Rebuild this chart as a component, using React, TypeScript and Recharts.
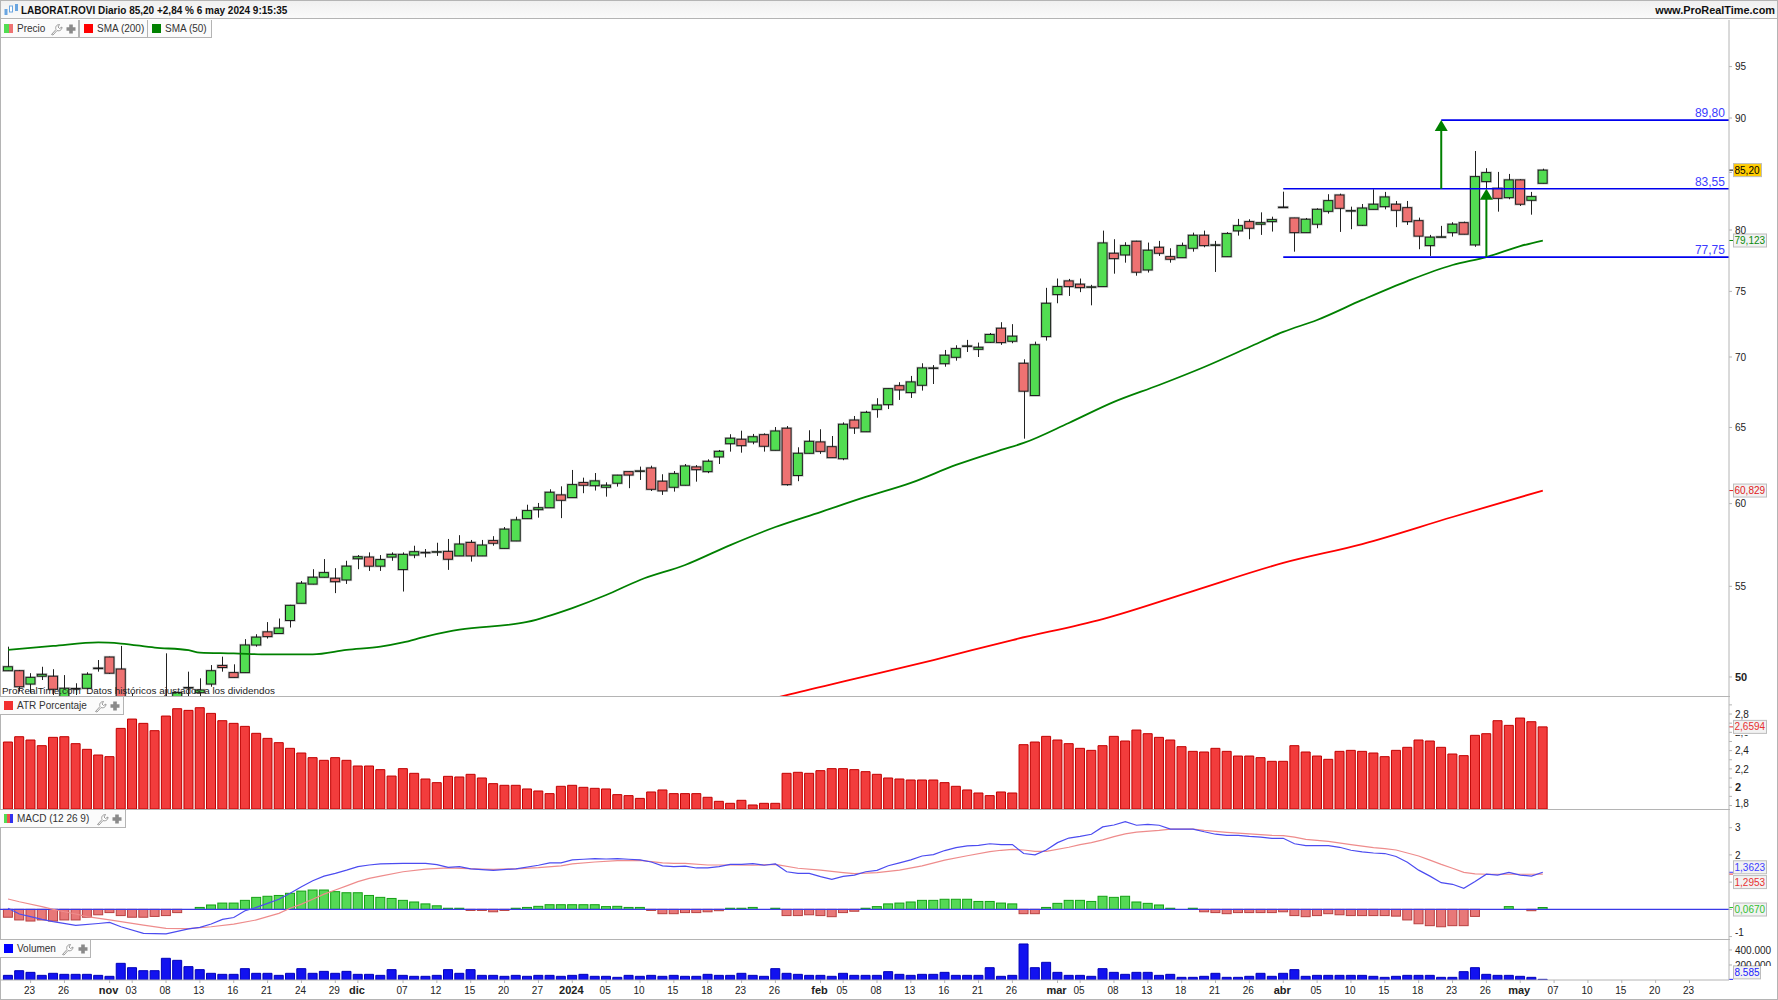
import React from "react";
import { ComposedChart, Bar, Line, XAxis, YAxis, ReferenceLine } from "recharts";

const FONT = "'Liberation Sans', Arial, sans-serif";

// trading calendar
const calendar: [number, number[]][] = [
  [10, [19,20,23,24,25,26,27,30,31]],
  [11, [1,2,3,6,7,8,9,10,13,14,15,16,17,20,21,22,23,24,27,28,29,30]],
  [12, [1,4,5,6,7,8,11,12,13,14,15,18,19,20,21,22,27,28,29]],
  [1, [2,3,4,5,8,9,10,11,12,15,16,17,18,19,22,23,24,25,26,29,30,31]],
  [2, [1,2,5,6,7,8,9,12,13,14,15,16,19,20,21,22,23,26,27,28,29]],
  [3, [1,4,5,6,7,8,11,12,13,14,15,18,19,20,21,22,25,26,27,28]],
  [4, [2,3,4,5,8,9,10,11,12,15,16,17,18,19,22,23,24,25,26,29,30]],
  [5, [2,3,6,7,8,9,10,13,14,15,16,17,20,21,22,23,24,27,28]],
];
const days: string[] = calendar.flatMap(([m, ds]) => ds.map((d) => `${m}-${d}`));

const timeTicks: [string, string][] = [
  ["10-23","23"],["10-26","26"],["11-1","nov"],["11-3","03"],["11-8","08"],["11-13","13"],["11-16","16"],["11-21","21"],["11-24","24"],["11-29","29"],
  ["12-1","dic"],["12-7","07"],["12-12","12"],["12-15","15"],["12-20","20"],["12-27","27"],["1-2","2024"],["1-5","05"],["1-10","10"],["1-15","15"],["1-18","18"],["1-23","23"],["1-26","26"],
  ["2-1","feb"],["2-5","05"],["2-8","08"],["2-13","13"],["2-16","16"],["2-21","21"],["2-26","26"],["3-1","mar"],["3-5","05"],["3-8","08"],["3-13","13"],["3-18","18"],["3-21","21"],["3-26","26"],
  ["4-2","abr"],["4-5","05"],["4-10","10"],["4-15","15"],["4-18","18"],["4-23","23"],["4-26","26"],["5-2","may"],["5-7","07"],["5-10","10"],["5-15","15"],["5-20","20"],["5-23","23"],
];
const boldTimeLabels = ["nov","dic","2024","feb","mar","abr","may"];

// open, high, low, close
const priceRows: number[][] = [
  [50.33,51.62,50.32,50.54],[50.33,50.37,49.23,49.49],[49.63,50.2,49.16,49.98],[50.04,50.54,49.84,50.14],[50.04,50.41,49.06,49.36],
  [48.89,50.1,48.85,49.41],[49.38,49.67,49.06,49.4],[49.41,50.25,49.36,50.14],[50.45,50.9,50.28,50.47],[51.06,51.08,50.16,50.2],
  [50.42,51.66,48.6,48.8],[48.75,49.16,48.35,48.55],[48.6,48.9,48.2,48.4],[48.5,48.95,48.1,48.7],[48.6,51.26,48.3,48.85],
  [48.9,49.23,48.8,49.19],[49.43,50.28,48.97,49.45],[49.18,49.93,48.97,49.32],[49.63,50.63,49.49,50.33],[50.61,51.08,50.28,50.5],
  [50.23,50.67,49.97,49.98],[50.23,52.03,50.22,51.71],[51.71,52.3,51.62,52.14],[52.43,52.97,52.06,52.17],[52.34,53.17,52.33,52.64],
  [53.06,53.94,52.67,53.91],[54.03,55.31,54.03,55.18],[55.13,56.0,55.12,55.53],[55.53,56.6,55.52,55.8],[55.47,56.06,54.61,55.27],
  [55.37,56.5,55.14,56.18],[56.62,56.84,56.0,56.74],[56.72,57.0,55.9,56.18],[56.18,56.84,55.9,56.57],[56.72,57.0,56.5,56.88],
  [55.98,57.0,54.7,56.88],[56.84,57.4,56.65,57.04],[57.0,57.2,56.7,57.0],[57.03,57.58,56.79,57.04],[57.06,57.81,55.96,56.59],
  [56.79,58.04,56.78,57.5],[57.6,57.75,56.45,56.79],[56.79,57.75,56.78,57.44],[57.71,57.98,57.4,57.55],[57.24,58.54,57.23,58.41],
  [57.69,59.18,57.68,58.98],[59.06,59.93,59.05,59.56],[59.62,60.04,59.12,59.74],[59.74,60.91,59.73,60.72],[60.55,61.1,59.09,60.21],
  [60.38,62.16,60.37,61.21],[61.34,61.66,60.66,61.17],[61.14,61.96,60.83,61.45],[61.04,61.36,60.44,61.17],[61.3,61.84,61.08,61.82],
  [62.05,62.06,60.98,61.83],[62.09,62.38,61.51,62.1],[62.29,62.44,60.8,60.91],[61.43,61.88,60.55,60.81],[61.04,62.09,60.76,61.92],
  [61.17,62.55,61.16,62.42],[62.36,62.48,61.4,62.18],[62.05,62.86,61.95,62.73],[63.02,63.48,62.55,63.39],[63.9,64.54,63.37,64.27],
  [64.2,64.78,63.3,63.77],[64.02,64.56,63.86,64.37],[64.51,64.6,63.37,63.73],[63.46,65.03,63.45,64.76],[64.95,65.1,61.14,61.21],
  [61.8,63.66,61.43,63.26],[63.26,64.81,63.25,64.06],[64.02,64.88,63.22,63.39],[63.7,64.42,62.96,62.97],[62.9,65.35,62.8,65.22],
  [65.51,65.79,64.56,64.97],[64.71,66.15,64.7,66.04],[66.25,67.03,65.67,66.55],[66.58,67.72,66.27,67.71],[67.92,68.17,66.91,67.62],
  [67.43,68.62,67.05,68.19],[67.95,69.54,67.57,69.2],[69.19,69.41,68.04,69.2],[69.51,70.52,69.29,70.13],[69.98,70.87,69.73,70.62],
  [70.8,71.27,70.37,70.82],[70.57,71.07,70.0,70.72],[71.09,71.79,71.05,71.68],[72.15,72.61,70.9,71.07],[71.17,72.46,71.02,71.55],
  [69.54,69.83,64.24,67.53],[67.22,71.14,67.2,70.91],[71.52,75.28,71.22,74.07],[74.75,76.02,74.07,75.38],[75.83,75.99,74.64,75.38],
  [75.57,76.02,74.94,75.3],[75.35,75.52,73.91,75.36],[75.38,79.95,75.37,78.92],[78.07,79.23,76.41,77.63],[77.93,78.98,77.3,78.7],
  [79.06,79.1,76.25,76.53],[76.71,78.95,76.5,78.32],[78.56,79.09,77.85,78.07],[77.79,78.48,77.3,77.58],[77.71,78.95,77.7,78.7],
  [78.48,79.78,78.2,79.56],[79.56,79.95,78.56,78.7],[78.74,79.09,76.55,78.76],[77.79,79.82,77.78,79.7],[79.93,80.94,79.53,80.37],
  [80.71,80.91,79.23,80.15],[80.49,81.5,79.59,80.62],[80.71,81.13,79.87,80.88],[81.93,83.29,81.87,81.95],[81.02,81.03,78.2,79.78],
  [79.78,81.02,79.77,80.91],[80.49,81.85,80.15,81.76],[81.59,83.07,81.39,82.51],[83.0,83.12,79.84,81.85],[81.63,81.99,80.07,81.65],
  [80.4,82.22,80.34,81.87],[81.76,83.5,81.75,82.2],[81.99,83.27,81.76,82.83],[82.2,82.48,80.24,81.68],[81.9,82.48,80.43,80.71],
  [80.79,81.05,78.4,79.49],[78.7,79.59,77.85,79.4],[79.41,80.35,79.4,79.43],[79.78,80.66,79.45,80.49],[80.62,80.71,79.64,79.65],
  [78.76,86.93,78.6,84.62],[84.18,85.37,83.59,84.98],[83.59,85.04,81.56,82.71],[82.77,84.86,82.63,84.33],[84.33,84.39,82.05,82.2],
  [82.54,83.27,81.3,82.86],[84.03,85.33,84.02,85.2],
];

// [bar number, value]
const sma50Points: number[][] = [
  [0,51.45],[4,51.66],[8,51.85],[10,51.79],[13,51.57],[16,51.43],[17,51.3],[20,51.26],[23,51.2],[27,51.2],[30,51.44],[33,51.62],[35,51.85],[37,52.17],[39,52.44],
  [40,52.55],[46,52.98],[50,53.76],[53,54.5],[56,55.37],[60,56.25],[64,57.44],[68,58.54],[72,59.47],[76,60.42],[80,61.32],[84,62.49],[88,63.48],[90,63.95],[94,65.31],
  [98,66.77],[102,67.97],[106,69.27],[110,70.74],[113,71.87],[116,72.78],[120,74.33],[124,75.82],[128,77.11],[131,77.76],[134,78.66],[136,79.123],
];
const sma200Points: number[][] = [
  [68,48.91],[69,49.06],[75,49.9],[82,50.9],[89,51.98],[97,53.14],[105,54.73],[113,56.37],[120,57.5],[128,59.16],[136,60.829],
];

const atrValues: number[] = [
  2.494,2.552,2.516,2.454,2.545,2.552,2.476,2.414,2.352,2.334,2.643,2.745,2.698,2.618,2.778,2.858,2.84,2.869,2.807,2.727,
  2.698,2.665,2.589,2.534,2.487,2.425,2.374,2.323,2.294,2.323,2.294,2.232,2.232,2.192,2.122,2.203,2.152,2.09,2.05,2.119,
  2.112,2.141,2.101,2.039,2.021,2.021,1.981,1.959,1.93,2.01,2.021,1.999,1.988,1.981,1.919,1.908,1.878,1.948,1.97,1.93,
  1.93,1.93,1.89,1.846,1.824,1.857,1.806,1.824,1.824,2.152,2.163,2.152,2.181,2.203,2.203,2.192,2.17,2.141,2.101,2.09,
  2.079,2.079,2.079,2.05,2.01,1.97,1.937,1.908,1.948,1.937,2.465,2.494,2.556,2.516,2.476,2.425,2.403,2.454,2.556,2.505,
  2.625,2.585,2.545,2.516,2.443,2.392,2.385,2.425,2.392,2.341,2.341,2.323,2.283,2.283,2.454,2.385,2.341,2.305,2.392,2.403,
  2.392,2.374,2.334,2.403,2.436,2.516,2.505,2.436,2.363,2.345,2.567,2.585,2.727,2.676,2.756,2.716,2.6594,
];

const macdHist: number[] = [
  -.29,-.39,-.43,-.39,-.43,-.39,-.39,-.29,-.2,-.12,-.23,-.29,-.29,-.26,-.23,-.12,0,.07,.16,.23,
  .23,.33,.44,.48,.51,.59,.67,.71,.71,.65,.61,.61,.51,.44,.4,.33,.27,.2,.13,.04,
  .04,-.04,-.04,-.09,-.04,.04,.07,.11,.17,.17,.17,.17,.17,.1,.11,.07,.07,-.04,-.16,-.16,
  -.12,-.12,-.09,-.05,.04,.04,.07,0,.04,-.23,-.23,-.2,-.23,-.27,-.12,-.07,.04,.1,.2,.23,
  .27,.33,.33,.37,.37,.37,.29,.29,.23,.2,-.16,-.16,.07,.22,.33,.33,.29,.48,.44,.48,
  .27,.22,.16,.04,0,.04,-.09,-.12,-.16,-.12,-.12,-.12,-.12,-.09,-.23,-.27,-.23,-.16,-.2,-.23,
  -.23,-.23,-.23,-.25,-.39,-.53,-.6,-.64,-.6,-.6,-.26,0,0,.1,0,-.05,.067,
];

const macdPoints: number[][] = [
  [0,.04],[1,-.17],[2,-.27],[3,-.37],[4,-.45],[6,-.59],[8,-.52],[9,-.48],[10,-.64],[12,-.88],[14,-.9],[16,-.72],[17,-.66],[18,-.54],[19,-.37],[20,-.3],[21,-.05],[22,.07],[23,.22],[24,.37],
  [25,.59],[26,.83],[27,1.05],[28,1.22],[29,1.32],[30,1.44],[31,1.57],[32,1.63],[33,1.67],[35,1.69],[37,1.69],[38,1.64],[39,1.54],[40,1.57],[41,1.49],[43,1.43],[45,1.49],[47,1.62],[48,1.71],[49,1.71],
  [50,1.82],[51,1.84],[52,1.86],[53,1.85],[54,1.86],[55,1.84],[56,1.82],[57,1.74],[58,1.6],[59,1.57],[60,1.59],[61,1.52],[62,1.52],[63,1.57],[64,1.65],[65,1.65],[66,1.68],[67,1.62],[68,1.67],[69,1.38],
  [70,1.32],[71,1.32],[72,1.2],[73,1.1],[74,1.21],[75,1.26],[76,1.38],[77,1.43],[78,1.6],[79,1.71],[80,1.82],[81,1.96],[82,2.01],[83,2.16],[84,2.27],[85,2.33],[86,2.35],[87,2.41],[88,2.38],[89,2.38],
  [90,2.05],[91,2.0],[92,2.18],[93,2.45],[94,2.62],[95,2.68],[96,2.76],[97,3.03],[98,3.1],[99,3.22],[100,3.09],[101,3.12],[102,3.09],[103,2.95],[104,2.95],[105,2.95],[106,2.85],[107,2.76],[108,2.72],[109,2.72],
  [110,2.68],[111,2.65],[112,2.61],[113,2.61],[114,2.41],[115,2.34],[116,2.34],[117,2.34],[118,2.28],[119,2.17],[120,2.11],[121,2.07],[122,2.05],[123,1.94],[124,1.73],[125,1.44],[126,1.22],[127,.98],[128,.92],[129,.77],
  [130,1.02],[131,1.29],[132,1.26],[133,1.36],[134,1.26],[135,1.22],[136,1.3623],
];
const signalPoints: number[][] = [
  [0,.38],[1,.28],[3,.1],[4,0],[5,-.09],[6,-.17],[7,-.27],[9,-.39],[10,-.45],[12,-.58],[14,-.7],[16,-.71],[18,-.64],[20,-.54],[22,-.39],[23,-.27],[24,-.15],[25,.04],[26,.19],[27,.37],[28,.56],[29,.71],[30,.86],[31,1.02],[32,1.14],[33,1.22],[35,1.38],[37,1.48],[39,1.52],
  [42,1.48],[43,1.47],[45,1.49],[47,1.53],[49,1.6],[50,1.67],[52,1.74],[54,1.79],[56,1.8],[58,1.71],[59,1.69],[60,1.69],[62,1.63],[64,1.63],[66,1.62],[68,1.65],[70,1.51],[72,1.44],[74,1.35],[75,1.31],[77,1.35],[79,1.44],[81,1.6],[83,1.81],
  [85,1.97],[87,2.12],[88,2.17],[89,2.2],[90,2.18],[91,2.13],[92,2.13],[94,2.28],[95,2.38],[96,2.45],[97,2.55],[98,2.67],[99,2.77],[100,2.84],[102,2.9],[103,2.95],[105,2.95],[106,2.9],[108,2.83],[110,2.77],[112,2.72],[113,2.71],[114,2.65],[115,2.57],[117,2.5],[119,2.38],[121,2.27],[122,2.23],[123,2.18],[124,2.07],[125,1.96],[126,1.81],[127,1.65],[128,1.51],[129,1.36],[130,1.3],[131,1.29],[133,1.29],[135,1.29],[136,1.2953],
];

const volumeValues: number[] = [
  62000,124000,102000,62000,89000,75500,75500,75500,62000,49000,222000,164000,124000,124000,289000,262000,178000,138000,89000,75500,
  75500,151000,89000,89000,62000,89000,151000,89000,115000,89000,115000,75500,75500,62000,138000,62000,49000,49000,62000,138000,
  89000,138000,62000,62000,49000,62000,49000,62000,62000,49000,62000,75500,49000,49000,35500,62000,49000,62000,49000,62000,
  49000,49000,75500,62000,62000,89000,62000,49000,151000,89000,75500,62000,62000,49000,89000,62000,62000,62000,111000,75500,
  62000,75500,75500,102000,62000,62000,62000,164000,49000,62000,480000,164000,235500,102000,62000,62000,49000,151000,102000,75500,
  102000,102000,62000,75500,35500,35500,49000,89000,35500,35500,49000,89000,49000,89000,138000,49000,62000,62000,62000,62000,
  62000,49000,35500,49000,62000,62000,62000,35500,35500,111000,164000,75500,62000,62000,49000,35500,8585,
];

const lookup = (pts: number[][]) => new Map(pts.map(([i, v]) => [i, v]));
const sma50Map = lookup(sma50Points), sma200Map = lookup(sma200Points), macdMap = lookup(macdPoints), signalMap = lookup(signalPoints);

const rows = days.map((day, i) => ({
  day,
  ohlc: priceRows[i] ?? null,
  sma50: sma50Map.get(i) ?? null,
  sma200: sma200Map.get(i) ?? null,
  atr: atrValues[i] ?? null,
  hist: macdHist[i] ?? null,
  macd: macdMap.get(i) ?? null,
  signal: signalMap.get(i) ?? null,
  volume: volumeValues[i] ?? null,
}));

const priceTicks = [50,55,60,65,70,75,80,85,90,95];
const priceLabelled = [50,55,60,65,70,75,80,90,95];
const atrTicks = [1.8,1.9,2,2.1,2.2,2.3,2.4,2.5,2.6,2.7,2.8,2.9];
const atrLabelled = [1.8,2,2.2,2.4,2.6,2.8];
const macdTicks = [-1,0,1,2,3];
const macdLabelled = [-1,2,3];
const volumeTicks = [200000,400000];

const levels = [
  { from: "4-2", value: 83.55, text: "83,55" },
  { from: "4-2", value: 77.75, text: "77,75" },
  { from: "4-22", value: 89.8, text: "89,80" },
];
const arrows = [
  { day: "4-22", from: 83.55, to: 89.8 },
  { day: "4-26", from: 77.75, to: 83.55 },
];

const W = 1778;
const AXIS_W = 49;
const GRID = "#b4b4b4";
const xPadding = { left: 2.4, right: 0 };

const fmtComma = (v: number, d = 0) => v.toFixed(d).replace(".", ",");

function Candle(props: any) {
  const { x, y, width, height, payload } = props;
  if (!payload.ohlc || !height) return <g />;
  const [o, h, l, c] = payload.ohlc;
  const yOf = (p: number) => y + (height * (Math.log(h) - Math.log(p))) / (Math.log(h) - Math.log(l));
  const up = c >= o;
  const top = yOf(Math.max(o, c));
  const bot = yOf(Math.min(o, c));
  const cx = Math.round(x + width / 2) + 0.5;
  return (
    <g>
      <line x1={cx} x2={cx} y1={y} y2={y + height} stroke="#222" strokeWidth={1} />
      <rect x={x} y={top} width={width} height={Math.max(bot - top, 0.5)} fill="none" stroke="#000" strokeOpacity={0.25} strokeWidth={2.4} />
      <rect x={x} y={top} width={width} height={Math.max(bot - top, 0.5)} fill={up ? "#52dd52" : "#ee7272"} stroke="#1c1c1c" strokeWidth={1} />
    </g>
  );
}

function HistBar(props: any) {
  const { x, y, width, height, payload } = props;
  if (payload.hist == null || !payload.hist) return <g />;
  const up = payload.hist > 0;
  const t = Math.min(y, y + height);
  return <rect x={x} y={t} width={width} height={Math.abs(height)} fill={up ? "#55d955" : "#e87878"} stroke={up ? "#14a014" : "#b84040"} strokeWidth={1} />;
}

// a label half hidden by a value badge keeps only the part the badge leaves free
function AxisTick(props: any) {
  const { x, y, payload, labelled, format, boldAt, maxY, cut } = props;
  if (labelled && !labelled.includes(payload.value)) return <g />;
  const yy = Math.min(y, maxY ?? y);
  const bold = boldAt === payload.value;
  const clip = cut && cut.value === payload.value ? cut : null;
  const id = clip ? `cut-${String(payload.value).replace(".", "_")}` : undefined;
  return (
    <g>
      {clip && (
        <clipPath id={id}>
          <rect x={x - 2} y={clip.from} width={50} height={clip.height} />
        </clipPath>
      )}
      <text x={x} y={yy} dy={3.6} clipPath={clip ? `url(#${id})` : undefined} fontFamily={FONT} fontSize={bold ? 11 : 10} fontWeight={bold ? 700 : 400} fill="#222" textAnchor="start">
        {format(payload.value)}
      </text>
    </g>
  );
}

function TimeTick(props: any) {
  const { x, y, payload } = props;
  const label = timeTicks.find(([k]) => k === payload.value)?.[1] ?? "";
  const bold = boldTimeLabels.includes(label);
  return (
    <text x={x - 1} y={y + 9} fontFamily={FONT} fontSize={bold ? 11 : 10} fontWeight={bold ? 700 : 400} fill="#222" textAnchor="middle">
      {label}
    </text>
  );
}

const badge = (text: string, color: string, bg: string, w: number, dy = 0) =>
  function Badge(p: any) {
    const right = Math.max(p.x1, p.x2);
    const bx = right + 4.5;
    const cy = p.y1 + dy;
    return (
      <g>
        <line x1={right} x2={right + 4} y1={p.y1} y2={p.y1} stroke={color} strokeWidth={1} />
        <rect x={bx} y={cy - 6.5} width={w} height={13} fill={bg} stroke="#bdbdbd" strokeWidth={1} />
        <text x={bx + 1} y={cy + 3.6} fontFamily={FONT} fontSize={10} fill={bg === "#ffcc00" ? "#000" : color}>{text}</text>
      </g>
    );
  };

const levelShape = (text: string) =>
  function Level(p: any) {
    const x2 = p.x2 + 5.6;
    return (
      <g>
        <line x1={p.x1} x2={x2} y1={p.y1} y2={p.y2} stroke="#0000ee" strokeWidth={1.6} />
        <text x={x2 - 4} y={p.y1 - 3} textAnchor="end" fontFamily={FONT} fontSize={12} fill="#3c3cff">{text}</text>
      </g>
    );
  };

function ArrowShape(p: any) {
  const hw = 6.5;
  return (
    <g>
      <line x1={p.x1} x2={p.x2} y1={p.y1} y2={p.y2 + 8} stroke="#008000" strokeWidth={2} />
      <polygon points={`${p.x2},${p.y2} ${p.x2 - hw},${p.y2 + 11} ${p.x2 + hw},${p.y2 + 11}`} fill="#008000" />
    </g>
  );
}

function Wrench({ x }: { x: number }) {
  return (
    <svg width={13} height={13} viewBox="0 0 13 13" style={{ position: "absolute", left: x, top: 2.5 }}>
      <path d="M1.5 11.5 L6 6.5 C5 4 6.5 1.5 9.5 1.5 L8 4 L9.5 5.5 L12 4 C12 7 9.5 8.5 7 7.5 L3 12 Z" fill="#fff" stroke="#9a9a9a" strokeWidth={1} />
    </svg>
  );
}
function Plus({ x }: { x: number }) {
  return (
    <svg width={10} height={10} viewBox="0 0 10 10" style={{ position: "absolute", left: x, top: 4 }}>
      <path d="M3.2 0.5 H6.8 V3.2 H9.5 V6.8 H6.8 V9.5 H3.2 V6.8 H0.5 V3.2 H3.2 Z" fill="#8a8a8a" />
    </svg>
  );
}

function LegendBox(p: { left: number; top: number; width: number; colors: string[]; label: string; tools?: [number, number] }) {
  const sw = 9 / p.colors.length;
  return (
    <div style={{ position: "absolute", left: p.left, top: p.top, width: p.width, height: 17, background: "#fbfbfb", border: `1px solid ${GRID}`, borderTop: "none", borderLeft: p.left === 0 ? "none" : `1px solid ${GRID}`, fontFamily: FONT, fontSize: 10, color: "#333" }}>
      <div style={{ position: "absolute", left: 4, top: 4, display: "flex", height: 9 }}>
        {p.colors.map((c) => <div key={c} style={{ width: sw, height: 9, background: c }} />)}
      </div>
      <span style={{ position: "absolute", left: 17, top: 3, whiteSpace: "nowrap" }}>{p.label}</span>
      {p.tools && <Wrench x={p.tools[0]} />}
      {p.tools && <Plus x={p.tools[1]} />}
    </div>
  );
}

export default function App() {
  return (
    <div style={{ position: "absolute", left: 0, top: 0, width: W, height: 1000, background: "#fff", overflow: "hidden" }}>
      {/* header */}
      <div style={{ position: "absolute", left: 0, top: 0, width: W, height: 19, background: "linear-gradient(#f0f0f0,#fafafa)", borderTop: `1px solid ${GRID}`, boxSizing: "border-box", borderBottom: `1px solid ${GRID}` }}>
        <svg width={16} height={14} viewBox="0 0 16 14" style={{ position: "absolute", left: 3, top: 2 }}>
          <rect x={1.5} y={6} width={3} height={6} fill="#6aa5e0" /><rect x={6.5} y={3} width={3} height={6} fill="#fff" stroke="#6aa5e0" /><rect x={12} y={1} width={3} height={7} fill="#6aa5e0" />
        </svg>
        <span style={{ position: "absolute", left: 21, top: 3.5, fontFamily: FONT, fontSize: 10, fontWeight: 700, color: "#111", whiteSpace: "nowrap" }}>LABORAT.ROVI Diario 85,20 +2,84 % 6 may 2024 9:15:35</span>
        <span style={{ position: "absolute", right: 3, top: 3, fontFamily: FONT, fontSize: 10.9, fontWeight: 700, color: "#111", whiteSpace: "nowrap" }}>www.ProRealTime.com</span>
      </div>

      {/* price panel */}
      <div style={{ position: "absolute", left: 0, top: 20 }}>
        <ComposedChart width={W} height={676} data={rows} margin={{ top: 0, right: 0, bottom: 0, left: 0 }} barCategoryGap={0}>
          <XAxis dataKey="day" hide padding={xPadding} />
          <YAxis orientation="right" width={AXIS_W} scale="log" domain={[49.01, 99.77]} allowDataOverflow ticks={priceTicks} interval={0} stroke={GRID} tickSize={3} tickMargin={3}
            tick={<AxisTick format={(v: number) => String(v)} labelled={priceLabelled} boldAt={50} />} />
          <Bar dataKey={(d: any) => (d.ohlc ? [d.ohlc[2], d.ohlc[1]] : null)} barSize={9} isAnimationActive={false} shape={<Candle />} />
          <Line type="monotone" dataKey="sma50" stroke="#008000" strokeWidth={1.8} dot={false} connectNulls isAnimationActive={false} />
          <Line type="monotone" dataKey="sma200" stroke="#ff0000" strokeWidth={1.8} dot={false} connectNulls isAnimationActive={false} />
          {levels.map((l) => (
            <ReferenceLine key={l.text} segment={[{ x: l.from, y: l.value }, { x: days[days.length - 1], y: l.value }]} shape={levelShape(l.text)} />
          ))}
          {arrows.map((a) => (
            <ReferenceLine key={a.day} segment={[{ x: a.day, y: a.from }, { x: a.day, y: a.to }]} shape={ArrowShape} />
          ))}
          <ReferenceLine y={85.2} shape={badge("85,20", "#000", "#ffcc00", 28)} />
          <ReferenceLine y={79.123} shape={badge("79,123", "#0a8a0a", "#f2f2f2", 33)} />
          <ReferenceLine y={60.829} shape={badge("60,829", "#e02020", "#f2f2f2", 33)} />
        </ComposedChart>
      </div>
      <div style={{ position: "absolute", left: 2, top: 685, fontFamily: FONT, fontSize: 9.9, color: "#222", whiteSpace: "nowrap" }}>ProRealTime.com&nbsp; Datos históricos ajustados a los dividendos</div>
      <LegendBox left={0} top={20} width={78} colors={["#52dd52", "#ee7272"]} label="Precio" tools={[50, 66]} />
      <LegendBox left={79} top={20} width={67} colors={["#ff0000"]} label="SMA (200)" />
      <LegendBox left={147} top={20} width={63} colors={["#008000"]} label="SMA (50)" />

      {/* separators */}
      <div style={{ position: "absolute", left: 0, top: 696, width: 1730, height: 1, background: GRID }} />
      <div style={{ position: "absolute", left: 0, top: 809, width: 1730, height: 1, background: GRID }} />
      <div style={{ position: "absolute", left: 0, top: 939, width: 1730, height: 1, background: GRID }} />
      <div style={{ position: "absolute", left: 0, top: 0, width: 1, height: 1000, background: GRID }} />
      <div style={{ position: "absolute", left: 1777, top: 0, width: 1, height: 1000, background: GRID }} />
      <div style={{ position: "absolute", left: 0, top: 999, width: W, height: 1, background: GRID }} />

      {/* ATR */}
      <div style={{ position: "absolute", left: 0, top: 697 }}>
        <ComposedChart width={W} height={112} data={rows} margin={{ top: 0, right: 0, bottom: 0, left: 0 }} barCategoryGap={0}>
          <XAxis dataKey="day" hide padding={xPadding} />
          <YAxis orientation="right" width={AXIS_W} domain={[1.762, 2.986]} allowDataOverflow ticks={atrTicks} interval={0} stroke={GRID} tickSize={3} tickMargin={3}
            tick={<AxisTick format={(v: number) => (v === 2 ? "2" : fmtComma(v, 1))} labelled={atrLabelled} boldAt={2} maxY={106} cut={{ value: 2.6, from: 38, height: 12 }} />} />
          <Bar dataKey="atr" barSize={9} fill="#f23c3c" stroke="#c00000" strokeWidth={1} isAnimationActive={false} />
          <ReferenceLine y={2.6594} shape={badge("2,6594", "#e83030", "#f2f2f2", 33)} />
        </ComposedChart>
      </div>
      <LegendBox left={0} top={697} width={123} colors={["#f23030"]} label="ATR Porcentaje" tools={[94, 110]} />

      {/* MACD */}
      <div style={{ position: "absolute", left: 0, top: 810 }}>
        <ComposedChart width={W} height={129} data={rows} margin={{ top: 0, right: 0, bottom: 0, left: 0 }} barCategoryGap={0}>
          <XAxis dataKey="day" hide padding={xPadding} />
          <YAxis orientation="right" width={AXIS_W} domain={[-1.09, 3.65]} allowDataOverflow ticks={macdTicks} interval={0} stroke={GRID} tickSize={3} tickMargin={3}
            tick={<AxisTick format={(v: number) => String(v)} labelled={macdLabelled} maxY={122} />} />
          <Bar dataKey="hist" barSize={9} isAnimationActive={false} shape={<HistBar />} />
          <ReferenceLine y={0} stroke="#3a3ae8" strokeWidth={1.2} />
          <Line dataKey="signal" stroke="#ee8c8c" strokeWidth={1.2} dot={false} connectNulls isAnimationActive={false} />
          <Line dataKey="macd" stroke="#4c4cf0" strokeWidth={1.2} dot={false} connectNulls isAnimationActive={false} />
          <ReferenceLine y={1.3623} shape={badge("1,3623", "#3c3cff", "#f2f2f2", 33, -5)} />
          <ReferenceLine y={1.2953} shape={badge("1,2953", "#e83030", "#f2f2f2", 33, 8)} />
          <ReferenceLine y={0.067} shape={badge("0,0670", "#30c030", "#f2f2f2", 33, 2)} />
        </ComposedChart>
      </div>
      <LegendBox left={0} top={810} width={125} colors={["#52dd52", "#ee5050", "#3030ee"]} label="MACD (12 26 9)" tools={[96, 112]} />

      {/* Volume */}
      <div style={{ position: "absolute", left: 0, top: 940 }}>
        <ComposedChart width={W} height={60} data={rows} margin={{ top: 0, right: 0, bottom: 0, left: 0 }} barCategoryGap={0}>
          <XAxis dataKey="day" padding={xPadding} ticks={timeTicks.map(([k]) => k)} interval={0} height={20} stroke={GRID} tickSize={3} tick={<TimeTick />} />
          <YAxis orientation="right" width={AXIS_W} domain={[0, 533000]} allowDataOverflow ticks={volumeTicks} interval={0} stroke={GRID} tickSize={3} tickMargin={3}
            tick={<AxisTick format={(v: number) => String(v).replace(/\B(?=(\d{3})+$)/g, ".")} cut={{ value: 200000, from: 15, height: 11 }} />} />
          <Bar dataKey="volume" barSize={9} fill="#1212f0" stroke="#0000b8" strokeWidth={1} isAnimationActive={false} />
          <ReferenceLine y={8585} shape={badge("8.585", "#2020ff", "#f2f2f2", 27, -7)} />
        </ComposedChart>
      </div>
      <LegendBox left={0} top={940} width={90} colors={["#0000ff"]} label="Volumen" tools={[61, 78]} />
    </div>
  );
}
